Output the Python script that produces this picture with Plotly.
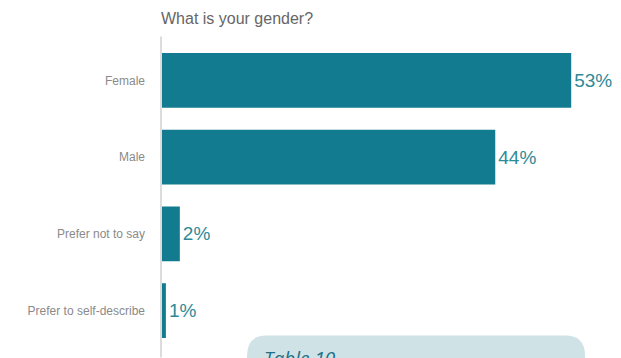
import plotly.graph_objects as go

categories = ["Female", "Male", "Prefer not to say", "Prefer to self-describe"]
values = [52.8, 43.0, 2.3, 0.5]
value_labels = ["53%", "44%", "2%", "1%"]
title_text = "What is your gender?"
box_text = "Table 10"

OFF = 8  # browser body margin
W, H = 621 - OFF, 358 - OFF
L, R, T, B = 162 - OFF, 0, 41.5 - OFF, 8.5
pw, ph = W - L - R, H - T - B

def px(x):  # page pixel -> paper
    return (x - OFF - L) / pw

def py(y):
    return (H - B - (y - OFF)) / ph

fig = go.Figure(go.Bar(
    y=categories, x=values, orientation="h",
    marker=dict(color="#137b90", line=dict(width=0)),
    text=value_labels, textposition="outside", cliponaxis=False,
    textfont=dict(size=19, color="#2f8a97", family="Liberation Sans"),
))

# rounded box
x0, x1, y0, y1, r = 247, 585, 336, 400, 20
path = (f"M {px(x0)},{py(y1)} L {px(x0)},{py(y0 + r)} "
        f"Q {px(x0)},{py(y0)} {px(x0 + r)},{py(y0)} "
        f"L {px(x1 - r)},{py(y0)} Q {px(x1)},{py(y0)} {px(x1)},{py(y0 + r)} "
        f"L {px(x1)},{py(y1)} Z")

fig.update_layout(
    width=W, height=H,
    margin=dict(l=L, r=R, t=T, b=B, pad=0),
    paper_bgcolor="white", plot_bgcolor="white",
    showlegend=False, bargap=0.286,
    xaxis=dict(range=[0, pw / 7.75], visible=False, fixedrange=True),
    yaxis=dict(autorange="reversed", showline=False, showgrid=False,
               ticks="", ticklabelstandoff=16, automargin=False,
               tickfont=dict(size=12, color="#8a8a8a", family="Liberation Sans")),
    shapes=[
        dict(type="line", xref="paper", yref="paper", x0=px(161), x1=px(161),
             y0=py(36), y1=py(358), line=dict(color="#d0d0d0", width=1.5)),
        dict(type="path", xref="paper", yref="paper", path=path,
             fillcolor="#cfe2e6", line=dict(width=0), layer="above"),
    ],
    annotations=[
        dict(text=title_text, xref="paper", yref="paper", x=px(160), y=py(8),
             xanchor="left", yanchor="top", showarrow=False, borderpad=0,
             font=dict(size=16, color="#666666", family="Liberation Sans")),
        dict(text=box_text, xref="paper", yref="paper", x=px(262), y=py(343),
             xanchor="left", yanchor="top", showarrow=False,
             font=dict(size=19, color="#1f6f86", family="Open Sans", style="italic")),
    ],
)

fig.write_html("out.html")
